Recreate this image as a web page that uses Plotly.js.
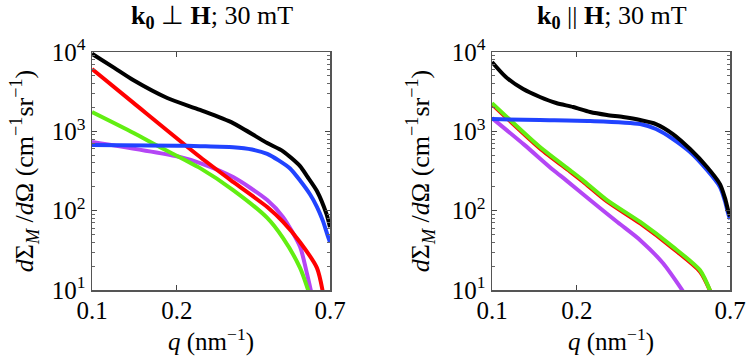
<!DOCTYPE html>
<html>
<head>
<meta charset="utf-8">
<script src="https://cdn.plot.ly/plotly-3.0.1.min.js"></script>
<style>html,body{margin:0;padding:0;background:#fff;}#chart{width:747px;height:359px;}</style>
</head>
<body>
<div id="chart"></div>
<script>
// ---- Data (q in nm^-1, dΣM/dΩ in cm^-1 sr^-1) ----
// Left panel: k0 ⊥ H; 30 mT
const qPerpBlack  = [0.1, 0.12, 0.14, 0.185, 0.242, 0.317, 0.419, 0.477, 0.548, 0.58, 0.629, 0.68, 0.7];
const perpBlack   = [9500, 6300, 4430, 2630, 1860, 1270, 711, 560, 365, 273, 177, 91, 62];
const qPerpBlue   = [0.1, 0.2, 0.242, 0.317, 0.37, 0.419, 0.46, 0.505, 0.548, 0.595, 0.629, 0.66, 0.685, 0.7];
const perpBlue    = [672, 660, 650, 630, 590, 520, 430, 340, 240, 160, 112, 75, 50, 40];
const qPerpRed    = [0.1, 0.14, 0.242, 0.317, 0.419, 0.477, 0.548, 0.629, 0.66];
const perpRed     = [6100, 2300, 474, 230, 111, 72, 40, 19, 9.5];
const qPerpGreen  = [0.1, 0.14, 0.174, 0.242, 0.317, 0.419, 0.477, 0.548, 0.588];
const perpGreen   = [1750, 960, 634, 344, 182, 81, 45, 19, 9.5];
const qPerpPurple = [0.1, 0.205, 0.242, 0.317, 0.419, 0.477, 0.548, 0.58, 0.6];
const perpPurple  = [733, 475, 398, 265, 136, 83, 35, 16, 9.5];

// Right panel: k0 || H; 30 mT
const qParBlack  = [0.1, 0.112, 0.129, 0.148, 0.169, 0.194, 0.223, 0.256, 0.292, 0.336, 0.382, 0.439, 0.505, 0.58, 0.645, 0.672, 0.689, 0.7];
const parBlack   = [7480, 4840, 3410, 2710, 2275, 2024, 1750, 1605, 1513, 1388, 1236, 925, 598, 355, 216, 144, 102, 85];
const qParBlue   = [0.1, 0.148, 0.223, 0.336, 0.382, 0.439, 0.505, 0.58, 0.645, 0.672, 0.689, 0.7];
const parBlue    = [1428, 1388, 1350, 1236, 1070, 800, 548, 325, 199, 132, 93, 78];
const qParRed    = [0.1, 0.148, 0.189, 0.21, 0.256, 0.336, 0.439, 0.548, 0.597];
const parRed     = [2200, 610, 313, 234, 131, 69, 33.5, 17, 9.5];
const qParGreen  = [0.1, 0.148, 0.189, 0.21, 0.256, 0.336, 0.439, 0.548, 0.597];
const parGreen   = [2270, 634, 325, 243, 136, 72, 35, 17.7, 9.5];
const qParPurple = [0.1, 0.13, 0.165, 0.183, 0.223, 0.28, 0.336, 0.405, 0.478];
const parPurple  = [1470, 680, 325, 243, 136, 71, 42.5, 21.7, 9.5];

const xTickVals = [0.1, 0.2, 0.7];
const xTickText = ['0.1', '0.2', '0.7'];
const yTickVals = [10, 100, 1000, 10000];
const yTickText = ['10<sup>1</sup>', '10<sup>2</sup>', '10<sup>3</sup>', '10<sup>4</sup>'];

const titleLeft  = '<b>k<sub>0</sub></b> \u22A5 <b>H</b>; 30 mT';
const titleRight = '<b>k<sub>0</sub></b> || <b>H</b>; 30 mT';
const xTitle = '<i>q</i> (nm<sup>\u22121</sup>)';
const yTitle = '<i>d</i>\u03A3<sub><i>M</i></sub> /<i>d</i>\u03A9 (cm<sup>\u22121</sup>sr<sup>\u22121</sup>)';

// ---- Styles ----
const COL = {black:'#000000', blue:'#2143ff', red:'#ff0000', green:'#62ee12', purple:'#b446f5'};
const FONT = 'Liberation Serif';
const LW = 4;

function tr(x, y, c, xa, ya) {
  return {x: x, y: y, xaxis: xa, yaxis: ya, type: 'scatter', mode: 'lines',
          line: {color: c, width: LW, shape: 'spline', smoothing: 0.7}, hoverinfo: 'skip', showlegend: false};
}

const data = [
  tr(qPerpPurple, perpPurple, COL.purple, 'x', 'y'),
  tr(qPerpGreen, perpGreen, COL.green, 'x', 'y'),
  tr(qPerpRed, perpRed, COL.red, 'x', 'y'),
  tr(qPerpBlue, perpBlue, COL.blue, 'x', 'y'),
  tr(qPerpBlack, perpBlack, COL.black, 'x', 'y'),
  tr(qParPurple, parPurple, COL.purple, 'x2', 'y2'),
  tr(qParRed, parRed, COL.red, 'x2', 'y2'),
  tr(qParGreen, parGreen, COL.green, 'x2', 'y2'),
  tr(qParBlue, parBlue, COL.blue, 'x2', 'y2'),
  tr(qParBlack, parBlack, COL.black, 'x2', 'y2')
];

function xax(domain, anchor) {
  return {type: 'log', range: [Math.log10(0.1), Math.log10(0.7)], domain: domain, anchor: anchor,
          tickvals: xTickVals, ticktext: xTickText, ticks: 'inside', ticklen: 5, tickcolor: '#444',
          ticklabelstandoff: -3,
          showline: true, linecolor: '#555', linewidth: 1.5, mirror: 'ticks', showgrid: false, zeroline: false,
          tickfont: {family: FONT, size: 25, color: '#000'},
          title: {text: xTitle, font: {family: FONT, size: 25, color: '#000'}, standoff: 2}};
}
function yax(anchor, standoff) {
  return {type: 'log', range: [1, 4], domain: [0, 1], anchor: anchor,
          tickvals: yTickVals, ticktext: yTickText, ticks: 'inside', ticklen: 5, tickcolor: '#444',
          minor: {ticks: 'inside', ticklen: 3, tickcolor: '#666', dtick: 'D1', showgrid: false},
          showline: true, linecolor: '#555', linewidth: 1.5, mirror: 'ticks', showgrid: false, zeroline: false,
          tickfont: {family: FONT, size: 25, color: '#000'},
          title: {text: yTitle, font: {family: FONT, size: 26, color: '#000'}, standoff: standoff}};
}

const layout = {
  width: 747, height: 359,
  margin: {l: 0, r: 0, t: 52, b: 69, pad: 0},
  paper_bgcolor: '#fff', plot_bgcolor: '#fff',
  font: {family: FONT, color: '#000', size: 24},
  xaxis: xax([92/747, 330/747], 'y'),
  yaxis: yax('x', 10),
  xaxis2: xax([492/747, 730/747], 'y2'),
  yaxis2: yax('x2', 14),
  annotations: [
    {text: titleLeft, xref: 'paper', yref: 'paper', x: (212)/747, y: (290-17)/238, xanchor: 'center', yanchor: 'middle',
     showarrow: false, font: {family: FONT, size: 26, color: '#000'}},
    {text: titleRight, xref: 'paper', yref: 'paper', x: (612)/747, y: (290-17)/238, xanchor: 'center', yanchor: 'middle',
     showarrow: false, font: {family: FONT, size: 26, color: '#000'}}
  ]
};

Plotly.newPlot('chart', data, layout, {staticPlot: true, displayModeBar: false});
</script>
</body>
</html>
